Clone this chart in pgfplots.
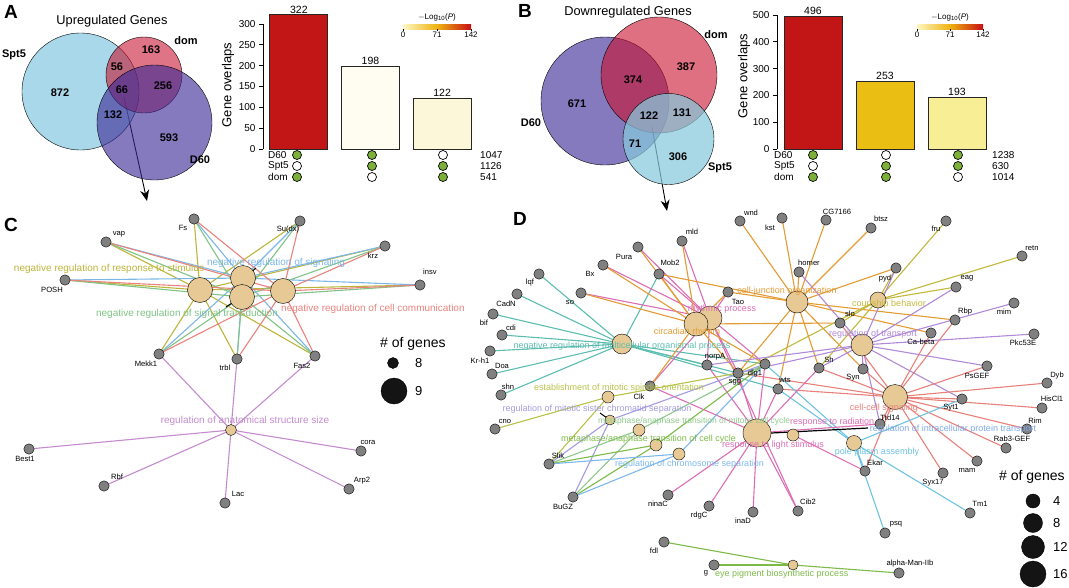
\documentclass[border=0pt]{standalone}
\usepackage{fontspec}
\setmainfont{Liberation Sans}
\usepackage{pgfplots}
\pgfplotsset{compat=1.18}
\usetikzlibrary{arrows.meta}

\definecolor{gGray}{HTML}{808080}
\definecolor{tanN}{HTML}{E6C994}
\definecolor{cOl}{HTML}{BDB43A}
\definecolor{cBl}{HTML}{7DB7E8}
\definecolor{cGr}{HTML}{7FC385}
\definecolor{cRd}{HTML}{E8837E}
\definecolor{cPu}{HTML}{C48BCF}
\definecolor{dTe}{HTML}{5BBDB0}
\definecolor{dPk}{HTML}{DD6DB4}
\definecolor{dOr}{HTML}{E49B34}
\definecolor{dOl}{HTML}{C2B83C}
\definecolor{dPu}{HTML}{B08AD8}
\definecolor{dRd}{HTML}{E8807A}
\definecolor{dCy}{HTML}{6EC3E0}
\definecolor{dBl}{HTML}{7FA9EA}
\definecolor{dGr}{HTML}{7DBB48}
\definecolor{dGr2}{HTML}{8DC98A}
\definecolor{dLa}{HTML}{A39BE0}
\definecolor{dOl2}{HTML}{B7C247}
\definecolor{dBl2}{HTML}{7CB8EE}
\definecolor{dotGreen}{HTML}{7DB03A}
\definecolor{vBlue}{HTML}{6EBEDA}
\definecolor{vBlueB}{HTML}{87C8DC}
\definecolor{vRed}{HTML}{C8102E}
\definecolor{vPur}{HTML}{3C2896}
\definecolor{aR}{HTML}{C11516}
\definecolor{aW}{HTML}{FFFDF1}
\definecolor{aY}{HTML}{FCF7D9}
\definecolor{bG}{HTML}{EBBE14}
\definecolor{bY}{HTML}{F8EE96}
\definecolor{cb1}{HTML}{FFF7C2}
\definecolor{cb2}{HTML}{EDB311}
\definecolor{cb3}{HTML}{C80F14}

\pgfplotsset{
 edge/.style={line width=1.1pt, forget plot},
 gnode/.style={only marks, mark=*, mark size=5.2pt, mark options={draw=none, fill=gGray}, forget plot},
 tnode/.style={only marks, mark=*, mark size=#1, mark options={draw=none, fill=tanN}, forget plot},
 ldot/.style={only marks, mark=*, mark size=#1, mark options={draw=none, fill=black!92}, forget plot},
 base/.style={at={(0,0)},anchor=south west,scale only axis,width=1069pt,height=587pt,
  xmin=0,xmax=1069,ymin=0,ymax=587,y dir=reverse,hide axis,clip=false},
}
\tikzset{
 gl/.style={font=\fontsize{7.6}{8}\selectfont, inner sep=0pt},
 tl/.style={font=\fontsize{9}{9}\selectfont, inner sep=0pt},
 tlc/.style={font=\fontsize{10}{10}\selectfont, inner sep=0pt},
 vn/.style={font=\bfseries\fontsize{11}{11}\selectfont, inner sep=0pt},
 mt/.style={font=\fontsize{10}{10}\selectfont, inner sep=0pt, anchor=west},
 cbt/.style={font=\fontsize{8}{8}\selectfont, inner sep=0pt},
 pl/.style={font=\bfseries\fontsize{19}{19}\selectfont, inner sep=0pt},
}

\newcommand\Nd[3]{\expandafter\gdef\csname px#1\endcsname{#2}\expandafter\gdef\csname py#1\endcsname{#3}}
\newcommand\Edg[3]{\edef\tmp{\noexpand\addplot[edge,#3] coordinates {(\csname px#1\endcsname,\csname py#1\endcsname) (\csname px#2\endcsname,\csname py#2\endcsname)};}\tmp}
\newcommand\Star[3]{\pgfplotsforeachungrouped \gn in {#3}{\Edg{#1}{\gn}{#2}}}
\newcommand\Dot[2]{\edef\tmp{\noexpand\addplot[#2] coordinates {(\csname px#1\endcsname,\csname py#1\endcsname)};}\tmp}
\newcommand\Dots[2]{\pgfplotsforeachungrouped \gn in {#2}{\Dot{\gn}{#1}}}
\newcommand\Lb[3]{\node[gl] at (axis cs:#1,#2) {#3};}

% ---- panel C nodes (pixel coordinates) ----
\Nd{Fs}{194}{219}\Nd{Sudx}{300}{221}\Nd{vap}{106}{242}\Nd{krz}{385}{246}
\Nd{POSH}{65}{280}\Nd{insv}{420}{285}\Nd{Mekk1}{159}{354}\Nd{trbl}{237}{359}
\Nd{Fas2}{315}{356}\Nd{Best1}{29}{449}\Nd{Rbf}{104}{486}\Nd{Lac}{225}{503}
\Nd{Arp2}{349}{489}\Nd{cora}{361}{451}
\Nd{cA}{200}{290}\Nd{cB}{243}{278}\Nd{cC}{242}{297}\Nd{cD}{283}{291}\Nd{cE}{231}{430}
% ---- panel D nodes ----
\Nd{wnd}{740}{221}\Nd{kst}{782}{218}\Nd{mld}{682}{241}\Nd{Pura}{638}{247}
\Nd{Mob2}{659}{274}\Nd{Bx}{603}{265}\Nd{lqf}{539}{274}\Nd{so}{581}{293}
\Nd{CadN}{517}{294}\Nd{bif}{493}{314}\Nd{cdi}{502}{335}\Nd{Krh1}{490}{351}
\Nd{Doa}{492}{374}\Nd{shn}{501}{395}\Nd{cno}{495}{429}\Nd{Tao}{728}{292}
\Nd{norpA}{707}{365}\Nd{dlg}{738}{373}\Nd{sgg}{765}{364}\Nd{Clk}{650}{386}
\Nd{wts}{778}{389}\Nd{Slik}{549}{464}\Nd{BuGZ}{573}{497}\Nd{ninaC}{668}{495}
\Nd{rdgC}{709}{506}\Nd{inaD}{753}{512}\Nd{Cib2}{798}{511}\Nd{fdl}{664}{542}
\Nd{gg}{714}{565}\Nd{homer}{799}{272}\Nd{CG}{826}{220}\Nd{btsz}{871}{228}
\Nd{fru}{946}{221}\Nd{retn}{1022}{256}\Nd{pyd}{896}{268}\Nd{eag}{956}{287}
\Nd{slo}{840}{323}\Nd{Rbp}{955}{320}\Nd{mim}{1014}{303}\Nd{Cab}{931}{333}
\Nd{Pkc}{1034}{334}\Nd{PsGEF}{987}{366}\Nd{Sh}{819}{368}\Nd{Syn}{863}{369}
\Nd{Dyb}{1047}{383}\Nd{Syt1}{962}{399}\Nd{HisCl1}{1042}{408}\Nd{Rim}{1027}{429}
\Nd{RabGEF}{1006}{448}\Nd{mam}{977}{461}\Nd{Syx17}{943}{473}\Nd{Tm1}{970}{513}
\Nd{psq}{885}{533}\Nd{aMan}{899}{573}\Nd{Ekar}{865}{471}\Nd{Ttd}{880}{424}
\Nd{RP}{710}{318}\Nd{CR}{696}{324}\Nd{NM}{622}{344}\Nd{CJ}{797}{302}
\Nd{CB}{878}{300}\Nd{RT}{862}{345}\Nd{CC}{895}{397}\Nd{RL}{757}{433}
\Nd{RR}{793}{435}\Nd{PP}{854}{443}\Nd{ESO}{608}{397}\Nd{RMSC}{610}{420}
\Nd{MAM}{639}{430}\Nd{MAC}{656}{445}\Nd{RCS}{679}{454}\Nd{EP}{793}{565}

\begin{document}
\begin{tikzpicture}
% ================= layer 1: all graphics =================
\begin{axis}[base]
% ===== Venn A =====
\addplot[only marks,mark=*,mark size=58.5pt,mark options={draw=none,fill=vBlue,fill opacity=0.6},forget plot] coordinates {(80.5,91.5)};
\addplot[only marks,mark=*,mark size=38pt,mark options={draw=none,fill=vRed,fill opacity=0.58},forget plot] coordinates {(144,75)};
\addplot[only marks,mark=*,mark size=57.5pt,mark options={draw=none,fill=vPur,fill opacity=0.62},forget plot] coordinates {(154.5,122.5)};
% ===== Venn B =====
\addplot[only marks,mark=*,mark size=64pt,mark options={draw=none,fill=vPur,fill opacity=0.62},forget plot] coordinates {(605,101)};
\addplot[only marks,mark=*,mark size=58pt,mark options={draw=none,fill=vRed,fill opacity=0.6},forget plot] coordinates {(659,75)};
\addplot[only marks,mark=*,mark size=45.5pt,mark options={draw=none,fill=vBlueB,fill opacity=0.72},forget plot] coordinates {(668.5,139)};

% arrows
\addplot[black,line width=0.9pt,-{Stealth[length=11pt,width=9pt]},forget plot] coordinates {(124,97) (147,201)};
\addplot[black,line width=0.9pt,-{Stealth[length=11pt,width=9pt]},forget plot] coordinates {(652,127) (667,211)};

% ===== Network C edges =====
\Star{cA}{cOl}{Fs,Sudx,vap,krz,POSH,insv,Mekk1,trbl,Fas2}
\Star{cB}{cBl}{Fs,Sudx,vap,krz,POSH,insv,Mekk1,trbl,Fas2}
\Star{cC}{cGr}{Fs,Sudx,vap,krz,POSH,insv,Mekk1,trbl,Fas2}
\Star{cD}{cRd}{Fs,Sudx,vap,krz,POSH,insv,Mekk1,trbl,Fas2}
\Star{cE}{cPu}{Mekk1,trbl,Fas2,Best1,Rbf,Lac,Arp2,cora}

% ===== Network D edges =====
\Star{NM}{dTe}{lqf,CadN,bif,cdi,Krh1,Doa,shn,Mob2,norpA,dlg,sgg,wts}
\Star{RP}{dPk}{Pura,Bx,so,mld,Mob2,Tao,norpA,Clk,sgg,Cib2,dlg}
\Star{CR}{dOr}{Pura,Bx,so,mld,Mob2,Tao,Clk,sgg,slo,dlg}
\Star{CJ}{dOr}{wnd,kst,CG,btsz,pyd,Mob2,Rbp,Cab,dlg,Sh,Syn,homer,wts,Tao}
\Star{CB}{dOl}{fru,retn,eag,slo,Sh,dlg,pyd}
\Star{RT}{dPu}{homer,pyd,eag,mim,Pkc,PsGEF,Sh,Syn,dlg,Syt1,norpA,Ttd}
\Star{CC}{dRd}{Rbp,Cab,Dyb,HisCl1,RabGEF,mam,Syx17,Syt1,Ekar,Syn,Sh,wts,dlg,slo,Rim,PsGEF,Ttd}
\Star{PP}{dCy}{psq,Ekar,Tm1,sgg,wts,Syt1}
\Star{RL}{dPk}{ninaC,rdgC,inaD,Cib2,norpA,Clk,sgg,wts,Ttd,dlg,Sh}
\Star{RR}{dPk}{Ekar}
\Star{ESO}{dOl2}{cno,Slik,dlg}
\Star{RMSC}{dLa}{Slik,BuGZ,sgg}
\Star{MAM}{dGr2}{Slik,BuGZ,sgg}
\Star{MAC}{dGr}{Slik,BuGZ,sgg}
\Star{RCS}{dBl2}{Slik,BuGZ,sgg}
\Star{EP}{dGr}{fdl,gg,aMan}

% ===== nodes =====
\Dots{gnode}{Fs,Sudx,vap,krz,POSH,insv,Mekk1,trbl,Fas2,Best1,Rbf,Lac,Arp2,cora}
\Dots{gnode}{wnd,kst,mld,Pura,Mob2,Bx,lqf,so,CadN,bif,cdi,Krh1,Doa,shn,cno,Tao,norpA,dlg,sgg,Clk,wts,Slik,BuGZ,ninaC,rdgC,inaD,Cib2,fdl,gg,homer,CG,btsz,fru,retn,pyd,eag,slo,Rbp,mim,Cab,Pkc,PsGEF,Sh,Syn,Dyb,Syt1,HisCl1,Rim,RabGEF,mam,Syx17,Tm1,psq,aMan,Ekar,Ttd}
\Dots{tnode=12.5pt}{cA,cD,cB,cC}
\Dots{tnode=5.5pt}{cE}
\Dots{tnode=12pt}{RP,CR}
\Dots{tnode=10pt}{NM}
\Dots{tnode=11pt}{CJ,RT}
\Dots{tnode=8pt}{CB}
\Dots{tnode=12.5pt}{CC}
\Dots{tnode=14pt}{RL}
\Dots{tnode=6pt}{RR,ESO,MAM,MAC,RCS}
\Dots{tnode=5pt}{RMSC,EP}
\Dots{tnode=7.5pt}{PP}

% leader lines
\addplot[black,line width=1pt,forget plot] coordinates {(243,279) (256,268)};
\addplot[black,line width=1pt,forget plot] coordinates {(226,307) (241,297)};
\addplot[black,line width=1.2pt,forget plot] coordinates {(752,434) (868,428)};
\addplot[black,line width=1pt,forget plot] coordinates {(600,413) (607,418)};

% ===== legends =====
\addplot[ldot=5.5pt] coordinates {(393,363)};
\addplot[ldot=13pt] coordinates {(394,391)};
\addplot[ldot=7pt] coordinates {(1033,501)};
\addplot[ldot=9.5pt] coordinates {(1033,523)};
\addplot[ldot=11.5pt] coordinates {(1033,547)};
\addplot[ldot=13pt] coordinates {(1033,574)};

% ===== upset matrices =====
\addplot[only marks,mark=*,mark size=4.5pt,mark options={fill=dotGreen,draw=black,line width=0.7pt},forget plot] coordinates {(297,155) (372,155) (372,166) (443,166) (297,177) (443,177) (813,155) (958,155) (886,166) (958,166) (813,177) (886,177)};
\addplot[only marks,mark=*,mark size=4.5pt,mark options={fill=white,draw=black,line width=0.7pt},forget plot] coordinates {(443,155) (297,166) (372,177) (886,155) (813,166) (958,177)};
\end{axis}

% ================= layer 2: all texts =================
\begin{axis}[base]
\node[anchor=west,inner sep=0pt,font=\fontsize{14}{14}\selectfont] at (axis cs:380,344) {\# of genes};
\node[anchor=west,inner sep=0pt,font=\fontsize{13}{13}\selectfont] at (axis cs:415,363) {8};
\node[anchor=west,inner sep=0pt,font=\fontsize{13}{13}\selectfont] at (axis cs:415,391) {9};
\node[anchor=west,inner sep=0pt,font=\fontsize{14}{14}\selectfont] at (axis cs:999,477) {\# of genes};
\node[anchor=west,inner sep=0pt,font=\fontsize{13}{13}\selectfont] at (axis cs:1053,501) {4};
\node[anchor=west,inner sep=0pt,font=\fontsize{13}{13}\selectfont] at (axis cs:1053,523) {8};
\node[anchor=west,inner sep=0pt,font=\fontsize{13}{13}\selectfont] at (axis cs:1053,547) {12};
\node[anchor=west,inner sep=0pt,font=\fontsize{13}{13}\selectfont] at (axis cs:1053,574) {16};

\node[mt] at (axis cs:268,155) {D60};
\node[mt] at (axis cs:268,166) {Spt5};
\node[mt] at (axis cs:268,177) {dom};
\node[mt] at (axis cs:480,155) {1047};
\node[mt] at (axis cs:480,166) {1126};
\node[mt] at (axis cs:480,177) {541};
\node[mt] at (axis cs:774,155) {D60};
\node[mt] at (axis cs:774,166) {Spt5};
\node[mt] at (axis cs:774,177) {dom};
\node[mt] at (axis cs:992,155) {1238};
\node[mt] at (axis cs:992,166) {630};
\node[mt] at (axis cs:992,177) {1014};

% colour bars
\shade[left color=cb1,right color=cb2] (axis cs:403,24) rectangle (axis cs:437,29);
\shade[left color=cb2,right color=cb3] (axis cs:437,24) rectangle (axis cs:471,29);
\shade[left color=cb1,right color=cb2] (axis cs:917,24) rectangle (axis cs:950,29);
\shade[left color=cb2,right color=cb3] (axis cs:950,24) rectangle (axis cs:983,29);
\draw[line width=0.5pt] (axis cs:403,29) -- (axis cs:403,31) (axis cs:437,29) -- (axis cs:437,31) (axis cs:471,29) -- (axis cs:471,31);
\draw[line width=0.5pt] (axis cs:917,29) -- (axis cs:917,31) (axis cs:950,29) -- (axis cs:950,31) (axis cs:983,29) -- (axis cs:983,31);
\node[cbt] at (axis cs:437,17) {$-$Log\textsubscript{10}(\textit{P})};
\node[cbt] at (axis cs:403,35) {0};
\node[cbt] at (axis cs:437,35) {71};
\node[cbt] at (axis cs:471,35) {142};
\node[cbt] at (axis cs:950,17) {$-$Log\textsubscript{10}(\textit{P})};
\node[cbt] at (axis cs:917,35) {0};
\node[cbt] at (axis cs:950,35) {71};
\node[cbt] at (axis cs:983,35) {142};

% Venn texts
\node[pl] at (axis cs:11,12) {A};
\node[pl] at (axis cs:525,11) {B};
\node[pl] at (axis cs:11,225) {C};
\node[pl] at (axis cs:520,219) {D};
\node[inner sep=0pt,font=\fontsize{12.8}{13}\selectfont] at (axis cs:112,21) {Upregulated Genes};
\node[inner sep=0pt,font=\fontsize{12.8}{13}\selectfont] at (axis cs:628,12) {Downregulated Genes};
\node[vn] at (axis cs:14,55) {Spt5};
\node[vn] at (axis cs:186,41) {dom};
\node[vn] at (axis cs:200,160) {D60};
\node[vn] at (axis cs:60,93) {872};
\node[vn] at (axis cs:151,50) {163};
\node[vn] at (axis cs:117,67) {56};
\node[vn] at (axis cs:122,90) {66};
\node[vn] at (axis cs:163,86) {256};
\node[vn] at (axis cs:113,115) {132};
\node[vn] at (axis cs:169,138) {593};
\node[vn] at (axis cs:716,35) {dom};
\node[vn] at (axis cs:531,123) {D60};
\node[vn] at (axis cs:720,168) {Spt5};
\node[vn] at (axis cs:577,104) {671};
\node[vn] at (axis cs:633,80) {374};
\node[vn] at (axis cs:686,67) {387};
\node[vn] at (axis cs:649,116) {122};
\node[vn] at (axis cs:682,113) {131};
\node[vn] at (axis cs:635,144) {71};
\node[vn] at (axis cs:678,157) {306};
\node[rotate=90,inner sep=0pt,font=\fontsize{13}{13}\selectfont] at (axis cs:228,85) {Gene overlaps};
\node[rotate=90,inner sep=0pt,font=\fontsize{13}{13}\selectfont] at (axis cs:744,76) {Gene overlaps};

% term labels C
\node[tlc,cOl] at (axis cs:109,269) {negative regulation of response to stimulus};
\node[tlc,cBl] at (axis cs:276,263) {negative regulation of signaling};
\node[tlc,cGr] at (axis cs:187,314) {negative regulation of signal transduction};
\node[tlc,cRd,anchor=west] at (axis cs:281,309) {negative regulation of cell communication};
\node[tlc,cPu] at (axis cs:245,421) {regulation of anatomical structure size};
% gene labels C
\Lb{183}{228}{Fs}\Lb{288}{230}{Su(dx)}\Lb{119}{234}{vap}\Lb{373}{256}{krz}
\Lb{52}{290}{POSH}\Lb{430}{272}{insv}\Lb{146}{364}{Mekk1}\Lb{225}{368}{trbl}
\Lb{302}{366}{Fas2}\Lb{25}{459}{Best1}\Lb{117}{477}{Rbf}\Lb{238}{494}{Lac}
\Lb{362}{481}{Arp2}\Lb{368}{442}{cora}

% term labels D
\node[tl,dPk] at (axis cs:722,309) {rhythmic process};
\node[tl,dOr] at (axis cs:687,332) {circadian rhythm};
\node[tl,dTe] at (axis cs:622,346) {negative regulation of multicellular organismal process};
\node[tl,dOr] at (axis cs:787,291) {cell-junction organization};
\node[tl,dOl] at (axis cs:889,304) {courtship behavior};
\node[tl,dPu] at (axis cs:873,334) {regulation of transport};
\node[tl,dRd] at (axis cs:884,408) {cell-cell signaling};
\node[tl,dBl] at (axis cs:953,429) {regulation of intracellular protein transport};
\node[tl,dPk,anchor=west] at (axis cs:790,422) {response to radiation};
\node[tl,dPk] at (axis cs:773,445) {response to light stimulus};
\node[tl,dCy] at (axis cs:877,452) {pole plasm assembly};
\node[tl,dOl2] at (axis cs:619,388) {establishment of mitotic spindle orientation};
\node[tl,dLa] at (axis cs:597,409) {regulation of mitotic sister chromatid separation};
\node[tl,dGr2,anchor=west,font=\fontsize{8.5}{9}\selectfont] at (axis cs:598,421) {metaphase/anaphase transition of mitotic cell cycle};
\node[tl,dGr,anchor=west] at (axis cs:561,439) {metaphase/anaphase transition of cell cycle};
\node[tl,dBl2,anchor=west] at (axis cs:615,464) {regulation of chromosome separation};
\node[tl,dGr,anchor=west] at (axis cs:715,574) {eye pigment biosynthetic process};
% gene labels D
\Lb{751}{213}{wnd}\Lb{770}{228}{kst}\Lb{692}{232}{mld}\Lb{624}{257}{Pura}
\Lb{670}{263}{Mob2}\Lb{590}{274}{Bx}\Lb{530}{283}{lqf}\Lb{570}{302}{so}
\Lb{506}{304}{CadN}\Lb{484}{323}{bif}\Lb{511}{328}{cdi}\Lb{480}{361}{Kr-h1}
\Lb{502}{366}{Doa}\Lb{508}{387}{shn}\Lb{505}{421}{cno}\Lb{738}{302}{Tao}
\Lb{715}{357}{norpA}\Lb{755}{374}{dlg1}\Lb{735}{382}{sgg}\Lb{639}{397}{Clk}
\Lb{785}{380}{wts}\Lb{558}{456}{Slik}\Lb{563}{507}{BuGZ}\Lb{658}{504}{ninaC}
\Lb{699}{516}{rdgC}\Lb{743}{521}{inaD}\Lb{808}{502}{Cib2}\Lb{654}{551}{fdl}
\Lb{706}{573}{g}\Lb{809}{263}{homer}\Lb{837}{212}{CG7166}\Lb{881}{219}{btsz}
\Lb{936}{229}{fru}\Lb{1032}{248}{retn}\Lb{885}{279}{pyd}\Lb{967}{278}{eag}
\Lb{850}{314}{slo}\Lb{965}{312}{Rbp}\Lb{1004}{312}{mim}\Lb{921}{342}{Ca-beta}
\Lb{1023}{343}{Pkc53E}\Lb{977}{376}{PsGEF}\Lb{829}{360}{Sh}\Lb{853}{378}{Syn}
\Lb{1057}{376}{Dyb}\Lb{951}{408}{Syt1}\Lb{1052}{399}{HisCl1}\Lb{1035}{421}{Rim}
\Lb{1012}{439}{Rab3-GEF}\Lb{967}{470}{mam}\Lb{933}{483}{Syx17}\Lb{980}{504}{Tm1}
\Lb{896}{524}{psq}\Lb{910}{564}{alpha-Man-IIb}\Lb{875}{463}{Ekar}\Lb{890}{418}{Ttd14}
\end{axis}

% ===== bar chart A =====
\begin{axis}[at={(263pt,438pt)},anchor=south west,scale only axis,width=215pt,height=125pt,
  xmin=-0.5,xmax=2.5,ymin=0,ymax=300,axis x line=none,axis y line=left,
  y axis line style={-,line width=0.8pt},ytick={0,50,...,300},tick align=outside,
  major tick length=4pt,tick style={black,line width=0.8pt},
  yticklabel style={font=\fontsize{10}{10}\selectfont},
  /pgf/number format/assume math mode=true,clip=false,ybar,bar width=58pt,
  nodes near coords,nodes near coords style={font=\fontsize{10.5}{10.5}\selectfont,inner sep=1pt,text=black}]
\addplot[bar shift=0pt,fill=aR,draw=black!85,line width=0.8pt] coordinates {(0,322)};
\addplot[bar shift=0pt,fill=aW,draw=black!85,line width=0.8pt] coordinates {(1,198)};
\addplot[bar shift=0pt,fill=aY,draw=black!85,line width=0.8pt] coordinates {(2,122)};
\end{axis}

% ===== bar chart B =====
\begin{axis}[at={(777pt,438pt)},anchor=south west,scale only axis,width=216pt,height=134pt,
  xmin=-0.5,xmax=2.5,ymin=0,ymax=500,axis x line=none,axis y line=left,
  y axis line style={-,line width=0.8pt},ytick={0,100,...,500},tick align=outside,
  major tick length=4pt,tick style={black,line width=0.8pt},
  yticklabel style={font=\fontsize{10}{10}\selectfont},
  /pgf/number format/assume math mode=true,clip=false,ybar,bar width=58pt,
  nodes near coords,nodes near coords style={font=\fontsize{10.5}{10.5}\selectfont,inner sep=1pt,text=black}]
\addplot[bar shift=0pt,fill=aR,draw=black!85,line width=0.8pt] coordinates {(0,496)};
\addplot[bar shift=0pt,fill=bG,draw=black!85,line width=0.8pt] coordinates {(1,253)};
\addplot[bar shift=0pt,fill=bY,draw=black!85,line width=0.8pt] coordinates {(2,193)};
\end{axis}

\pgfresetboundingbox
\path (0,0) rectangle (1069pt,587pt);
\end{tikzpicture}
\end{document}
